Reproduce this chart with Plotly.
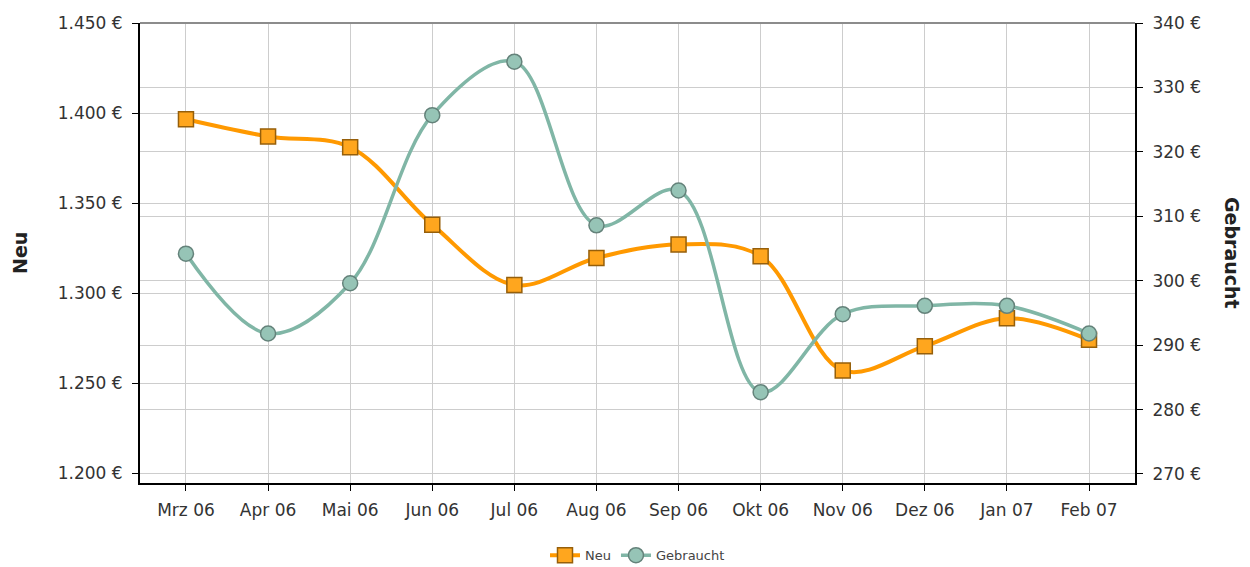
import plotly.graph_objects as go

months = ["Mrz 06", "Apr 06", "Mai 06", "Jun 06", "Jul 06", "Aug 06",
          "Sep 06", "Okt 06", "Nov 06", "Dez 06", "Jan 07", "Feb 07"]
neu = [1396.5, 1387, 1381, 1338, 1304.5, 1319.5, 1327, 1320.5, 1257, 1270.5, 1286, 1274]
gebraucht = [304.2, 291.8, 299.6, 325.7, 334, 308.6, 314, 282.7, 294.8, 296.1, 296.1, 291.8]

left_ticks = [1200, 1250, 1300, 1350, 1400, 1450]
left_labels = ["1.200 €", "1.250 €", "1.300 €", "1.350 €", "1.400 €", "1.450 €"]
right_ticks = [270, 280, 290, 300, 310, 320, 330, 340]
right_labels = ["270 €", "280 €", "290 €", "300 €", "310 €", "320 €", "330 €", "340 €"]

ORANGE = "rgb(255,153,0)"
TEAL = "rgb(128,182,166)"
GRID = "rgb(205,205,205)"
TXT = "#333333"
FONT = "DejaVu Sans"

fig = go.Figure()
fig.add_trace(go.Scatter(
    x=months, y=neu, name="Neu", yaxis="y",
    mode="lines+markers",
    line=dict(color=ORANGE, width=4, shape="spline", smoothing=1),
    marker=dict(symbol="square", size=15, color="rgb(255,166,30)",
                line=dict(color="rgb(150,95,10)", width=1.5)),
))
fig.add_trace(go.Scatter(
    x=months, y=gebraucht, name="Gebraucht", yaxis="y2",
    mode="lines+markers",
    line=dict(color=TEAL, width=3.5, shape="spline", smoothing=1),
    marker=dict(symbol="circle", size=15, color="rgb(150,196,182)",
                line=dict(color="rgb(100,130,122)", width=1.5)),
))

fig.update_layout(
    width=1250, height=567,
    margin=dict(l=140, r=115, t=23, b=84, autoexpand=False),
    paper_bgcolor="white", plot_bgcolor="white",
    font=dict(family=FONT, size=16, color=TXT),
    showlegend=True,
    legend=dict(orientation="h", x=0.5, xanchor="center", y=-0.157, yanchor="middle",
                font=dict(size=13, color="#444444"), itemwidth=30),
    xaxis=dict(
        type="category", range=[-0.56, 11.56], automargin=False,
        showgrid=True, gridcolor=GRID, gridwidth=1,
        showline=True, linecolor="black", linewidth=2,
        ticks="outside", ticklen=6, tickcolor="black",
        tickfont=dict(size=17, color=TXT), ticklabelstandoff=5,
    ),
    yaxis=dict(
        range=[1194.5, 1450], automargin=False,
        tickvals=left_ticks, ticktext=left_labels,
        showgrid=True, gridcolor=GRID, gridwidth=1,
        showline=True, linecolor="black", linewidth=2,
        ticks="outside", ticklen=6, tickcolor="black",
        tickfont=dict(size=17, color=TXT), ticklabelstandoff=6,
        zeroline=False,
    ),
    yaxis2=dict(
        range=[268.6, 340], overlaying="y", side="right", automargin=False,
        tickvals=right_ticks, ticktext=right_labels,
        showgrid=True, gridcolor=GRID, gridwidth=1,
        showline=True, linecolor="black", linewidth=2,
        ticks="outside", ticklen=6, tickcolor="black",
        tickfont=dict(size=17, color=TXT), ticklabelstandoff=6,
        zeroline=False,
    ),
    shapes=[dict(type="line", xref="paper", yref="paper", x0=0, x1=1, y0=1, y1=1,
                 line=dict(color="rgb(140,140,140)", width=2))],
    annotations=[
        dict(text="<b>Neu</b>", xref="paper", yref="paper", x=-0.1206, y=0.5,
             xanchor="center", yanchor="middle", textangle=-90, showarrow=False,
             font=dict(size=19, color="#222222")),
        dict(text="<b>Gebraucht</b>", xref="paper", yref="paper", x=1.0975, y=0.5,
             xanchor="center", yanchor="middle", textangle=90, showarrow=False,
             font=dict(size=19, color="#222222")),
    ],
)

fig.write_html("out.html", config={"displayModeBar": False},
               post_script="document.body.style.margin='0';document.body.style.overflow='hidden';")
